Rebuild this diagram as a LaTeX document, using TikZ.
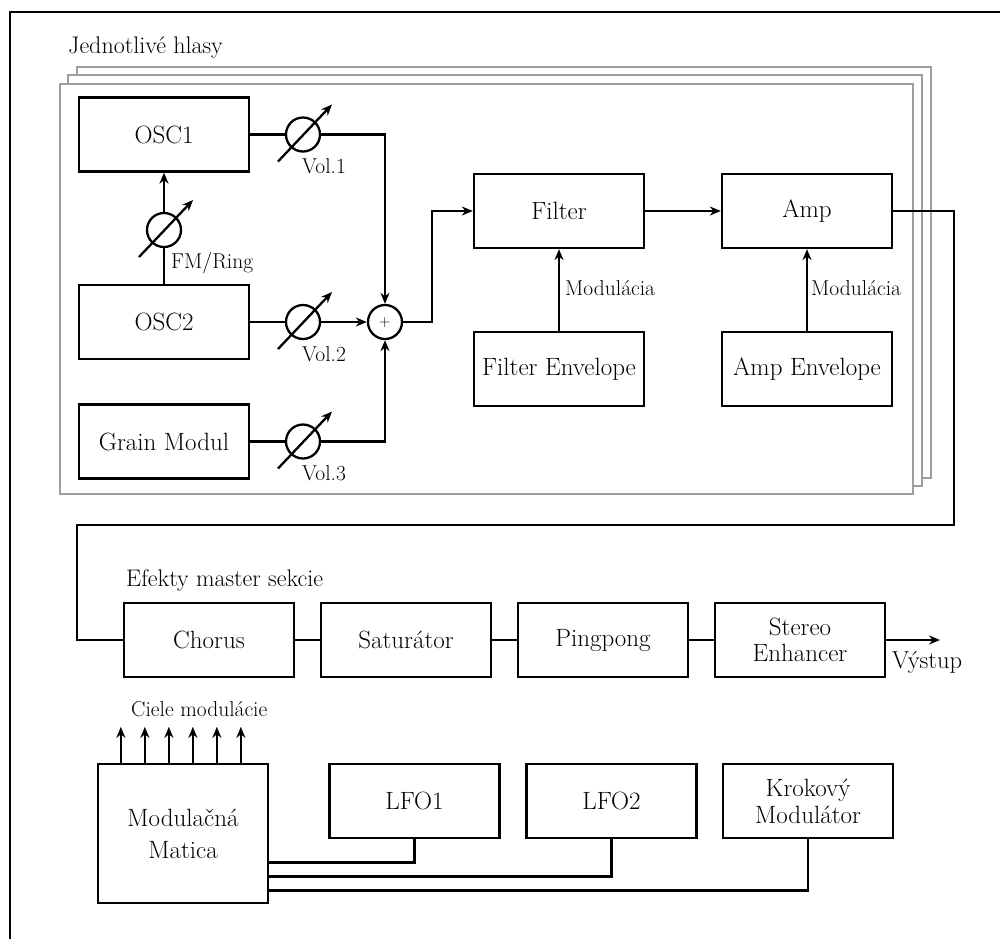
\documentclass[tikz,border=0pt]{standalone}
\usetikzlibrary{arrows.meta,calc}
\begin{document}
\begin{tikzpicture}[x=1pt,y=-1pt,
  box/.style={draw,line width=2.3pt,minimum width=170pt,minimum height=74pt,inner sep=0pt,align=center,font=\fontsize{25}{27}\selectfont},
  knob/.style={draw,circle,line width=2.3pt,minimum size=34pt,inner sep=0pt},
  sumnode/.style={draw,circle,line width=2.3pt,minimum size=34pt,inner sep=0pt,font=\fontsize{16}{16}\selectfont},
  lbl/.style={font=\fontsize{21.5}{24}\selectfont,inner sep=0pt,anchor=base west},
  ttl/.style={font=\fontsize{24}{28}\selectfont,inner sep=0pt,anchor=base west},
  conn/.style={line width=2.3pt},
  arr/.style={conn,-{Stealth[length=11pt,width=9pt]}},
  voice/.style={draw=black!38,fill=white,line width=2pt}]
\useasboundingbox (0,0) rectangle (1000,938);
\draw[line width=2pt] (10,940) -- (10,12) -- (1002,12);

% voice frames
\node[ttl] (ttlvoice) at (68,53) {Jednotlivé hlasy};
\draw[voice] (77,67) rectangle (931,478);
\draw[voice] (68,75) rectangle (922,486);
\draw[voice] (60,84) rectangle (913,494);

% oscillators
\node[box] (osc1) at (164,134.5) {OSC1};
\node[box] (osc2) at (164,322) {OSC2};
\node[box] (grain) at (164,441.5) {Grain Modul};
\node[knob] (k1) at (303,134.5) {};
\node[knob] (k2) at (303,322) {};
\node[knob] (k3) at (303,441.5) {};
\node[knob] (kfm) at (164,230) {};
\node[sumnode] (sum) at (385,322) {+};
\foreach \k in {k1,k2,k3,kfm}{
  \draw[conn,-{Stealth[length=11pt,width=9pt]}] ($(\k)+(-25,27)$) -- ($(\k)+(29,-30)$);
}
\node[lbl] (v1) at (302,173) {Vol.1};
\node[lbl] (v2) at (302,361) {Vol.2};
\node[lbl] (v3) at (302,480.5) {Vol.3};
\node[lbl] (fmr) at (171,268) {FM/Ring};

\draw[conn] (osc1.east) -- (k1.west);
\draw[arr] (k1.east) -| (sum.north);
\draw[conn] (osc2.east) -- (k2.west);
\draw[arr] (k2.east) -- (sum.west);
\draw[conn] (grain.east) -- (k3.west);
\draw[arr] (k3.east) -| (sum.south);
\draw[conn] (osc2.north) -- (kfm.south);
\draw[arr] (kfm.north) -- (osc1.south);

% filter / amp
\node[box] (filter) at (559,211) {Filter};
\node[box] (amp) at (807,211) {Amp};
\node[box] (fenv) at (559,369) {Filter Envelope};
\node[box] (aenv) at (807,369) {Amp Envelope};
\draw[arr] (sum.east) -- ++(29,0) |- (filter.west);
\draw[arr] (filter.east) -- (amp.west);
\draw[arr] (fenv.north) -- (filter.south);
\draw[arr] (aenv.north) -- (amp.south);
\node[lbl] (m1) at (565,295) {Modulácia};
\node[lbl] (m2) at (811,295) {Modulácia};

% master effects
\node[ttl] (ttlfx) at (126,586) {Efekty master sekcie};
\node[box] (chorus) at (209,640) {Chorus};
\node[box] (sat) at (406,640) {Saturátor};
\node[box] (ping) at (603,640) {Pingpong};
\node[box,font=\fontsize{25}{26}\selectfont] (stereo) at (800,640) {Stereo\\Enhancer};
\coordinate (r1) at (954,525);
\coordinate (r2) at (77,525);
\draw[conn] (amp.east) -| (r1) -- (r2) |- (chorus.west);
\draw[conn] (chorus.east) -- (sat.west);
\draw[conn] (sat.east) -- (ping.west);
\draw[conn] (ping.east) -- (stereo.west);
\coordinate (out) at (940,640);
\draw[arr] (stereo.east) -- (out);
\node[lbl,font=\fontsize{24.5}{28}\selectfont] (vystup) at (892,668) {Výstup};

% modulation
\node[box,minimum height=139pt,font=\fontsize{25}{32}\selectfont] (mat) at (183,833.5) {Modulačná\\Matica};
\node[box] (lfo1) at (414.5,801) {LFO1};
\node[box] (lfo2) at (611.5,801) {LFO2};
\node[box] (krok) at (808,801) {Krokový\\Modulátor};
\node[lbl] (ciele) at (131,716) {Ciele modulácie};
\foreach \i in {1,...,6}{
  \coordinate (t\i) at ($(mat.north west)+(24*\i,-36)$);
  \draw[arr] ($(mat.north west)+(24*\i,0)$) -- (t\i);
}
\draw[conn] (lfo1.south) |- ([yshift=-29pt]mat.east);
\draw[conn] (lfo2.south) |- ([yshift=-43pt]mat.east);
\draw[conn] (krok.south) |- ([yshift=-57pt]mat.east);
\end{tikzpicture}
\end{document}
